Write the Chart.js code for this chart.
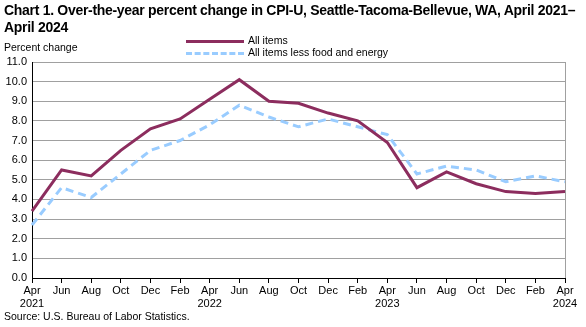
<!DOCTYPE html>
<html lang="en">
<head>
    <meta charset="UTF-8">
    <title>CPI-U Seattle-Tacoma-Bellevue</title>
    <script src="https://cdn.jsdelivr.net/npm/chart.js"></script>
    <style>
        body {
            margin: 0;
            width: 586px;
            height: 327px;
            background: #ffffff;
            font-family: Arial, "Liberation Sans", sans-serif;
            position: relative;
            overflow: hidden;
        }

        .title {
            position: absolute;
            left: 4px;
            top: 2px;
            font-size: 14px;
            font-weight: bold;
            line-height: 17px;
            letter-spacing: -0.3px;
            white-space: nowrap;
            color: #000;
        }

        .ylabel {
            position: absolute;
            left: 4px;
            top: 41px;
            font-size: 10.5px;
            color: #000;
        }

        .legend {
            position: absolute;
            left: 186px;
            top: 34px;
            font-size: 10.5px;
            color: #000;
        }

        .legend div {
            height: 12px;
            line-height: 12px;
            white-space: nowrap;
        }

        .legend span.swatch {
            display: inline-block;
            width: 58px;
            height: 0;
            vertical-align: middle;
            margin-right: 4px;
        }

        .source {
            position: absolute;
            left: 4px;
            top: 310px;
            font-size: 10.5px;
            color: #000;
        }

        #chart-container {
            position: absolute;
            left: 0;
            top: 0;
            width: 586px;
            height: 327px;
        }
    </style>
</head>
<body>

<div id="chart-container">
    <canvas id="cpiChart" width="586" height="327"></canvas>
</div>

<div class="title">Chart 1. Over-the-year percent change in CPI-U, Seattle-Tacoma-Bellevue, WA, April 2021&ndash;<br>April 2024</div>
<div class="ylabel">Percent change</div>
<div class="legend">
    <div><span class="swatch" style="border-top: 3px solid #8c2d5e;"></span>All items</div>
    <div><span class="swatch" style="border-top: 3px dashed #99ccff;"></span>All items less food and energy</div>
</div>
<div class="source">Source: U.S. Bureau of Labor Statistics.</div>

<script>
    // Bimonthly periods, April 2021 - April 2024
    const months = ['Apr', 'Jun', 'Aug', 'Oct', 'Dec', 'Feb', 'Apr', 'Jun', 'Aug', 'Oct',
                    'Dec', 'Feb', 'Apr', 'Jun', 'Aug', 'Oct', 'Dec', 'Feb', 'Apr'];
    const years = ['2021', '', '', '', '', '', '2022', '', '', '',
                   '', '', '2023', '', '', '', '', '', '2024'];

    const allItems = [3.4, 5.5, 5.2, 6.5, 7.6, 8.1, 9.1, 10.1, 9.0, 8.9,
                      8.4, 8.0, 6.9, 4.6, 5.4, 4.8, 4.4, 4.3, 4.4];
    const lessFoodEnergy = [2.7, 4.6, 4.1, 5.3, 6.5, 7.0, 7.8, 8.8, 8.2, 7.7,
                            8.1, 7.7, 7.3, 5.3, 5.7, 5.5, 4.9, 5.2, 4.9];

    const yTicks = [0, 1, 2, 3, 4, 5, 6, 7, 8, 9, 10, 11];

    const labels = months.map((m, i) => years[i] ? [m, years[i]] : m);

    // gray line on the right of plot area
    const frame = {
        id: 'frame',
        beforeDatasetsDraw(chart) {
            const a = chart.chartArea;
            const c = chart.ctx;
            c.save();
            c.strokeStyle = '#a0a0a0';
            c.lineWidth = 1;
            c.beginPath();
            c.moveTo(Math.round(a.right) + 0.5, a.bottom);
            c.lineTo(Math.round(a.right) + 0.5, a.top);
            c.stroke();
            c.restore();
        }
    };

    const ctx = document.getElementById('cpiChart').getContext('2d');
    new Chart(ctx, {
        type: 'line',
        data: {
            labels: labels,
            datasets: [
                {
                    label: 'All items',
                    data: allItems,
                    borderColor: '#8c2d5e',
                    borderWidth: 3,
                    pointRadius: 0,
                    tension: 0,
                    order: 1
                },
                {
                    label: 'All items less food and energy',
                    data: lessFoodEnergy,
                    borderColor: '#99ccff',
                    borderWidth: 3,
                    borderDash: [8, 5],
                    pointRadius: 0,
                    tension: 0,
                    order: 2
                }
            ]
        },
        options: {
            responsive: false,
            animation: false,
            events: [],
            layout: {
                padding: { top: 62, right: 21, bottom: 19, left: 0 }
            },
            plugins: {
                legend: { display: false },
                tooltip: { enabled: false }
            },
            scales: {
                x: {
                    offset: false,
                    grid: {
                        drawOnChartArea: false,
                        drawTicks: true,
                        tickLength: 5,
                        tickColor: '#000'
                    },
                    border: { color: '#000', width: 1 },
                    ticks: {
                        color: '#000',
                        font: { family: 'Arial, "Liberation Sans"', size: 11 },
                        maxRotation: 0,
                        autoSkip: false,
                        padding: 1
                    },
                    afterFit(scale) { scale.height = 30; }
                },
                y: {
                    min: 0,
                    max: 11,
                    afterBuildTicks(scale) {
                        scale.ticks = yTicks.map(v => ({ value: v }));
                    },
                    grid: {
                        color: '#a0a0a0',
                        drawTicks: false,
                        tickLength: 0
                    },
                    border: { color: '#000', width: 1 },
                    ticks: {
                        color: '#000',
                        font: { family: 'Arial, "Liberation Sans"', size: 11 },
                        padding: 5,
                        callback: v => v.toFixed(1)
                    },
                    afterFit(scale) { scale.width = 32; }
                }
            }
        },
        plugins: [frame]
    });
</script>

</body>
</html>
